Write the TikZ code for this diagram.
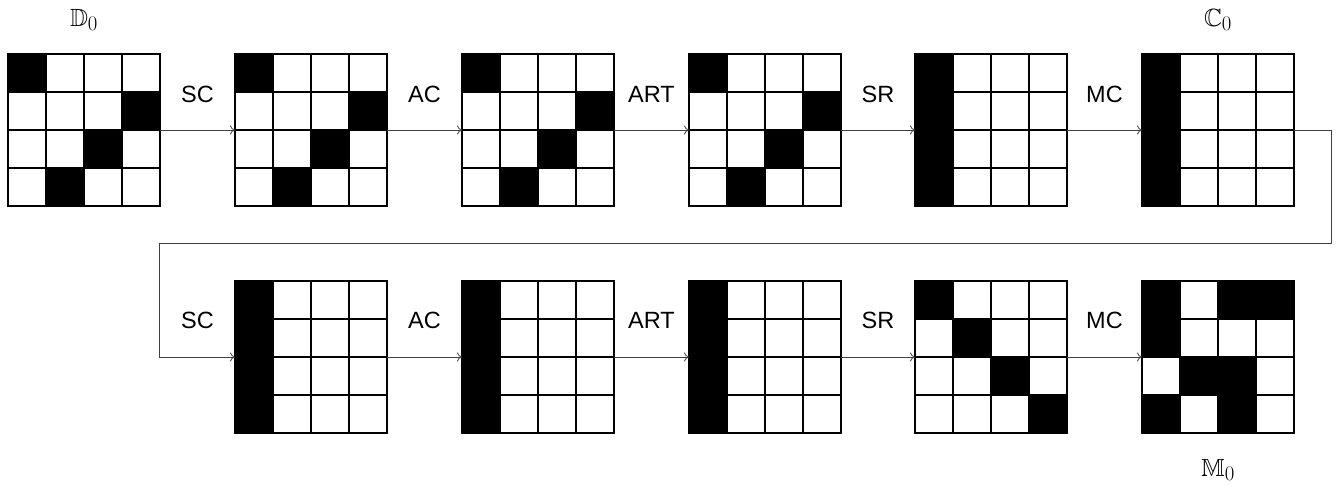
\documentclass[tikz,border=0pt]{standalone}
\usepackage{amssymb}
\usepackage{fontspec}
\setsansfont{Liberation Sans}
\usetikzlibrary{arrows.meta}
\newcommand\mygrid[4]{%
  \node[gridbox,anchor=north west] (#1) at (#2,#3) {};
  \foreach \r/\c in {#4} {\fill[black] (#2+\c*38,#3+\r*38) rectangle ++(38,38);}
  \foreach \i in {0,...,4} {%
    \draw[cell] (#2+\i*38,#3) -- (#2+\i*38,#3+152);
    \draw[cell] (#2,#3+\i*38) -- (#2+152,#3+\i*38);}
}
\begin{document}
\begin{tikzpicture}[x=1pt,y=-1pt,
  cell/.style={draw=black,line width=1.2pt,line cap=rect},
  gridbox/.style={minimum size=152pt,inner sep=0pt,outer sep=0pt,draw=none},
  lab/.style={font=\sffamily\fontsize{23.5}{24}\selectfont,anchor=base,inner sep=0pt},
  mlab/.style={font=\Huge,anchor=base,inner sep=0pt},
  conn/.style={-{To[length=5pt,width=9pt]},draw=black!75,line width=0.8pt}]
\useasboundingbox (0,0) rectangle (1336,485);
% row 1
\mygrid{g1}{8}{54}{0/0,1/3,2/2,3/1}
\mygrid{g2}{235}{54}{0/0,1/3,2/2,3/1}
\mygrid{g3}{462}{54}{0/0,1/3,2/2,3/1}
\mygrid{g4}{689}{54}{0/0,1/3,2/2,3/1}
\mygrid{g5}{915}{54}{0/0,1/0,2/0,3/0}
\mygrid{g6}{1142}{54}{0/0,1/0,2/0,3/0}
% row 2
\mygrid{g7}{235}{281}{0/0,1/0,2/0,3/0}
\mygrid{g8}{462}{281}{0/0,1/0,2/0,3/0}
\mygrid{g9}{689}{281}{0/0,1/0,2/0,3/0}
\mygrid{g10}{915}{281}{0/0,1/1,2/2,3/3}
\mygrid{g11}{1142}{281}{0/0,0/2,0/3,1/0,2/1,2/2,3/0,3/2}
% top/bottom labels
\node[mlab] (t1) at (84,26) {$\mathbb{D}_0$};
\node[mlab] (t2) at (1218,26) {$\mathbb{C}_0$};
\node[mlab] (t3) at (1218,476) {$\mathbb{M}_0$};
% step labels row 1
\node[lab] (a1) at (197.5,102) {SC};
\node[lab] (a2) at (424.5,102) {AC};
\node[lab] (a3) at (651.5,102) {ART};
\node[lab] (a4) at (878,102) {SR};
\node[lab] (a5) at (1104.5,102) {MC};
% step labels row 2
\node[lab] (b1) at (197.5,328) {SC};
\node[lab] (b2) at (424.5,328) {AC};
\node[lab] (b3) at (651.5,328) {ART};
\node[lab] (b4) at (878,328) {SR};
\node[lab] (b5) at (1104.5,328) {MC};
% connectors
\draw[conn] (g1.east) -- (g2.west);
\draw[conn] (g2.east) -- (g3.west);
\draw[conn] (g3.east) -- (g4.west);
\draw[conn] (g4.east) -- (g5.west);
\draw[conn] (g5.east) -- (g6.west);
\coordinate (r1) at (1331,243);
\coordinate (r2) at (159,243);
\draw[conn] (g6.east) -| (r1) -- (r2) |- (g7.west);
\draw[conn] (g7.east) -- (g8.west);
\draw[conn] (g8.east) -- (g9.west);
\draw[conn] (g9.east) -- (g10.west);
\draw[conn] (g10.east) -- (g11.west);
\end{tikzpicture}
\end{document}
